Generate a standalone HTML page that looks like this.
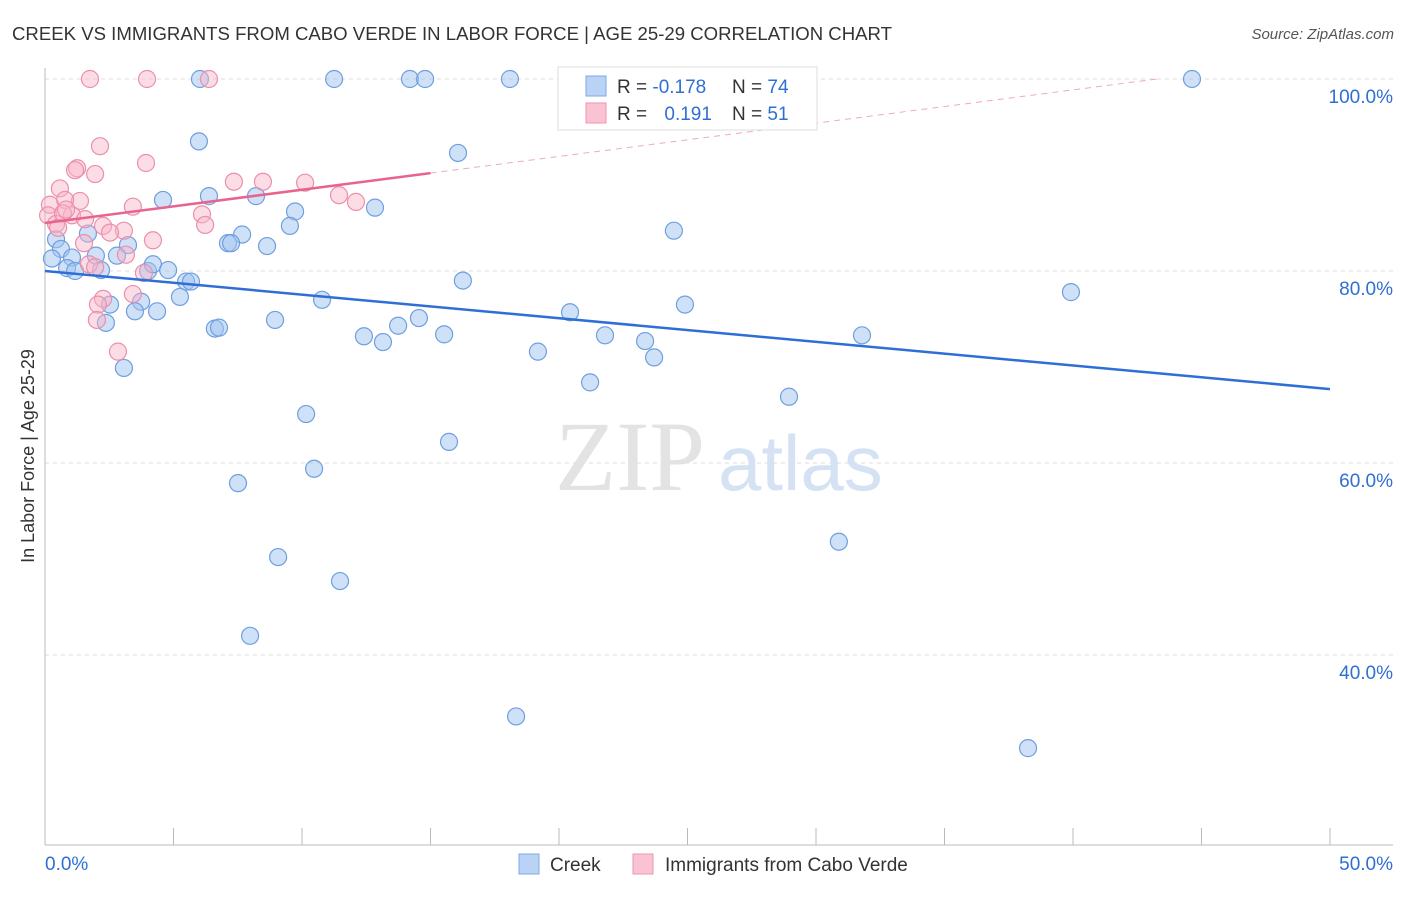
<!DOCTYPE html>
<html><head><meta charset="utf-8"><style>
body{margin:0;background:#fff;font-family:"Liberation Sans",sans-serif;}
</style></head><body>
<svg width="1406" height="892" xmlns="http://www.w3.org/2000/svg">
<text x="12" y="40" font-size="18" fill="#333" textLength="880" lengthAdjust="spacingAndGlyphs">CREEK VS IMMIGRANTS FROM CABO VERDE IN LABOR FORCE | AGE 25-29 CORRELATION CHART</text>
<text x="1394" y="39" font-size="15" fill="#555" font-style="italic" text-anchor="end">Source: ZipAtlas.com</text>
<g id="grid"></g>
<text x="555" y="490" font-size="100" fill="#e3e3e3" font-family="Liberation Serif">ZIP</text>
<text x="718" y="490" font-size="78" fill="#d4e2f4">atlas</text>
<g id="axes"></g>
<g id="marks"></g>
<text transform="translate(34,456) rotate(-90)" font-size="18" fill="#333" text-anchor="middle">In Labor Force | Age 25-29</text>
<g>
<rect x="558" y="67" width="259" height="63" fill="#fff" stroke="#ddd"/>
<rect x="586" y="76" width="20" height="20" fill="#b9d3f5" stroke="#7fa9e6"/>
<rect x="586" y="103" width="20" height="20" fill="#f9c3d3" stroke="#ee95b0"/>
<text x="617" y="93" font-size="19" fill="#333">R = <tspan fill="#2f6fd3">-0.178</tspan></text>
<text x="732" y="93" font-size="19" fill="#333">N = <tspan fill="#2f6fd3">74</tspan></text>
<text x="617" y="120" font-size="19" fill="#333">R = <tspan fill="#2f6fd3" dx="12">0.191</tspan></text>
<text x="732" y="120" font-size="19" fill="#333">N = <tspan fill="#2f6fd3">51</tspan></text>
</g>
<g>
<rect x="519" y="854" width="20" height="20" fill="#b9d3f5" stroke="#7fa9e6"/>
<text x="550" y="871" font-size="19" fill="#333">Creek</text>
<rect x="633" y="854" width="20" height="20" fill="#f9c3d3" stroke="#ee95b0"/>
<text x="665" y="871" font-size="19" fill="#333">Immigrants from Cabo Verde</text>
</g>
</svg>
<script>
const yTicks=[100,80,60,40];
const yTickLabels=["100.0%","80.0%","60.0%","40.0%"];
const xTickLabels=["0.0%","50.0%"];
const creekX=[6.03,11.25,14.2,14.79,18.09,44.63,5.99,16.07,4.59,6.38,8.21,12.84,9.73,9.53,24.47,7.67,1.67,0.43,0.62,3.23,7.12,7.24,8.64,1.98,2.8,1.05,0.27,0.86,1.17,2.18,4.01,4.2,4.79,5.49,5.68,16.26,39.92,3.74,2.53,3.5,4.36,5.25,10.78,24.9,20.43,2.37,8.95,14.55,13.74,6.61,6.77,12.41,15.53,21.79,31.79,13.15,23.35,19.18,23.7,3.07,21.21,28.95,10.16,15.72,10.47,7.51,30.89,9.07,11.48,7.98,18.33,38.25];
const creekY=[100,100,100,100,100,100,93.5,92.3,87.4,87.8,87.8,86.6,86.2,84.7,84.2,83.8,83.9,83.3,82.3,82.7,82.9,82.9,82.6,81.6,81.6,81.4,81.3,80.3,80,80.1,80,80.7,80.1,78.9,78.9,79,77.8,76.8,76.5,75.8,75.8,77.3,77,76.5,75.7,74.6,74.9,75.1,74.3,74,74.1,73.2,73.4,73.3,73.3,72.6,72.7,71.6,71,69.9,68.4,66.9,65.1,62.2,59.4,57.9,51.8,50.2,47.7,42,33.6,30.3];
const caboX=[1.75,3.97,6.38,2.14,3.93,1.25,1.17,1.95,7.35,8.48,10.12,0.58,11.44,12.1,1.36,0.78,3.42,0.19,0.12,6.11,1.05,6.23,2.26,3.07,2.53,0.43,0.51,0.7,0.82,1.56,4.2,1.52,3.15,1.71,3.85,1.95,3.42,2.26,2.06,2.02,2.84];
const caboY=[100,100,100,93,91.25,90.7,90.5,90.1,89.3,89.3,89.2,88.6,87.9,87.2,87.3,87.4,86.7,86.9,85.8,85.9,85.8,84.8,84.7,84.2,84,84.9,84.5,86,86.4,85.4,83.2,82.9,81.7,80.7,79.8,80.4,77.6,77.1,76.5,74.9,71.6];
const creekTrend=[80.0,67.7];
const caboTrend=[85.0,90.2];
const caboTrendEnd=15;

const NS="http://www.w3.org/2000/svg";
const xs=v=>45+v*25.7;
const ys=v=>79+(100-v)*9.6;
function mk(tag,attrs,parent){const e=document.createElementNS(NS,tag);for(const k in attrs)e.setAttribute(k,attrs[k]);document.getElementById(parent).appendChild(e);return e;}
yTicks.forEach((t,i)=>{
 const g=mk('line',{x1:45,x2:1393,y1:ys(t),y2:ys(t),stroke:'#ddd','stroke-dasharray':'4,4'},'grid');
 
 
 const l=mk('text',{x:1393,y:ys(t)+24,'font-size':19,fill:'#2f6fd3','text-anchor':'end'},'axes');
 l.textContent=yTickLabels[i];
 
 
});
let a=mk('line',{x1:45,x2:45,y1:68,y2:845,stroke:'#bbb'},'axes');


a=mk('line',{x1:45,x2:1393,y1:845,y2:845,stroke:'#bbb'},'axes');


for(let i=0;i<=10;i++){
 const t=mk('line',{x1:xs(i*5),x2:xs(i*5),y1:828,y2:845,stroke:'#bbb'},'axes');
 
 
}
[[0,'start'],[50,'end']].forEach((p,i)=>{
 const l=mk('text',{x:i?1393:45,y:870,'font-size':19,fill:'#2f6fd3','text-anchor':p[1]},'axes');
 l.textContent=xTickLabels[i];
 
 
});
creekX.forEach((x,i)=>{
 const c=mk('circle',{cx:xs(x),cy:ys(creekY[i]),r:8.5,fill:'rgba(160,196,240,0.5)',stroke:'#6f9fe0','stroke-width':1.2},'marks');
 
 
});
caboX.forEach((x,i)=>{
 const c=mk('circle',{cx:xs(x),cy:ys(caboY[i]),r:8.5,fill:'rgba(248,180,200,0.45)',stroke:'#ec8fab','stroke-width':1.2},'marks');
 
 
});
let tl=mk('line',{x1:xs(0),y1:ys(creekTrend[0]),x2:xs(50),y2:ys(creekTrend[1]),stroke:'#2e6fd6','stroke-width':2.5},'marks');


const slope=(caboTrend[1]-caboTrend[0])/caboTrendEnd;
const xEnd=(100-caboTrend[0])/slope;
tl=mk('line',{x1:xs(caboTrendEnd),y1:ys(caboTrend[1]),x2:xs(xEnd),y2:ys(100),stroke:'#eeaabd','stroke-width':1,'stroke-dasharray':'6,5'},'marks');


tl=mk('line',{x1:xs(0),y1:ys(caboTrend[0]),x2:xs(caboTrendEnd),y2:ys(caboTrend[1]),stroke:'#e8648e','stroke-width':2.5},'marks');


</script>
</body></html>
